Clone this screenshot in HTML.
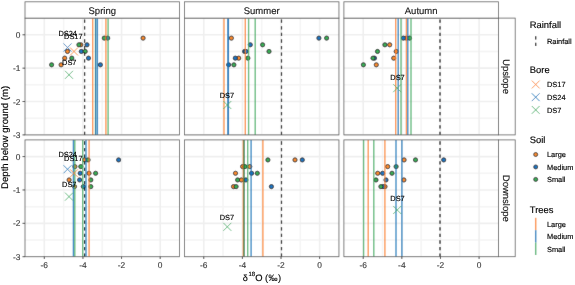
<!DOCTYPE html><html><head><meta charset="utf-8"><style>html,body{margin:0;padding:0;background:#fff;}svg{display:block;text-rendering:geometricPrecision;} svg text{font-family:"Liberation Sans",sans-serif;stroke:#000;stroke-width:0.15px;} svg text.g{fill:#3d3d3d;stroke:#3d3d3d;} svg text.s{fill:#1a1a1a;stroke:#1a1a1a;}</style></head><body>
<svg width="575" height="285" viewBox="0 0 575 285" font-family='"Liberation Sans", sans-serif'>
<defs><filter id="bl" x="0" y="0" width="575" height="285" filterUnits="userSpaceOnUse"><feConvolveMatrix order="3" kernelMatrix="0.0052 0.0619 0.0052 0.0619 0.7314 0.0619 0.0052 0.0619 0.0052" edgeMode="duplicate" preserveAlpha="true"/></filter><filter id="nop" x="0" y="0" width="575" height="285" filterUnits="userSpaceOnUse"><feOffset dx="0" dy="0"/></filter></defs>
<g filter="url(#bl)"><rect x="0" y="0" width="575" height="285" fill="#fff"/>
<rect x="25.0" y="18.1" width="154.5" height="116.8" fill="#fff"/>
<line x1="63.62" y1="18.1" x2="63.62" y2="134.9" stroke="#f4f4f4" stroke-width="1.5"/>
<line x1="102.25" y1="18.1" x2="102.25" y2="134.9" stroke="#f4f4f4" stroke-width="1.5"/>
<line x1="140.88" y1="18.1" x2="140.88" y2="134.9" stroke="#f4f4f4" stroke-width="1.5"/>
<line x1="25.0" y1="51.47" x2="179.5" y2="51.47" stroke="#f4f4f4" stroke-width="1.5"/>
<line x1="25.0" y1="84.84" x2="179.5" y2="84.84" stroke="#f4f4f4" stroke-width="1.5"/>
<line x1="25.0" y1="118.21" x2="179.5" y2="118.21" stroke="#f4f4f4" stroke-width="1.5"/>
<line x1="44.31" y1="18.1" x2="44.31" y2="134.9" stroke="#efefef" stroke-width="1.6"/>
<line x1="82.94" y1="18.1" x2="82.94" y2="134.9" stroke="#efefef" stroke-width="1.6"/>
<line x1="121.56" y1="18.1" x2="121.56" y2="134.9" stroke="#efefef" stroke-width="1.6"/>
<line x1="160.19" y1="18.1" x2="160.19" y2="134.9" stroke="#efefef" stroke-width="1.6"/>
<line x1="25.0" y1="34.79" x2="179.5" y2="34.79" stroke="#efefef" stroke-width="1.6"/>
<line x1="25.0" y1="68.16" x2="179.5" y2="68.16" stroke="#efefef" stroke-width="1.6"/>
<line x1="25.0" y1="101.53" x2="179.5" y2="101.53" stroke="#efefef" stroke-width="1.6"/>
<line x1="25.0" y1="134.90" x2="179.5" y2="134.90" stroke="#efefef" stroke-width="1.6"/>
<circle cx="61.10" cy="64.82" r="2.1" fill="#f48a2e" stroke="#1a1a1a" stroke-width="0.8"/>
<circle cx="64.70" cy="58.15" r="2.1" fill="#f48a2e" stroke="#1a1a1a" stroke-width="0.8"/>
<circle cx="67.50" cy="51.47" r="2.1" fill="#f48a2e" stroke="#1a1a1a" stroke-width="0.8"/>
<circle cx="80.80" cy="44.80" r="2.1" fill="#f48a2e" stroke="#1a1a1a" stroke-width="0.8"/>
<circle cx="143.10" cy="38.12" r="2.1" fill="#f48a2e" stroke="#1a1a1a" stroke-width="0.8"/>
<circle cx="81.30" cy="51.47" r="2.1" fill="#1a74be" stroke="#1a1a1a" stroke-width="0.8"/>
<circle cx="87.00" cy="44.80" r="2.1" fill="#1a74be" stroke="#1a1a1a" stroke-width="0.8"/>
<circle cx="88.50" cy="58.15" r="2.1" fill="#1a74be" stroke="#1a1a1a" stroke-width="0.8"/>
<circle cx="100.40" cy="64.82" r="2.1" fill="#1a74be" stroke="#1a1a1a" stroke-width="0.8"/>
<circle cx="107.70" cy="38.12" r="2.1" fill="#1a74be" stroke="#1a1a1a" stroke-width="0.8"/>
<circle cx="51.60" cy="64.82" r="2.1" fill="#38aa55" stroke="#1a1a1a" stroke-width="0.8"/>
<circle cx="71.80" cy="58.15" r="2.1" fill="#38aa55" stroke="#1a1a1a" stroke-width="0.8"/>
<circle cx="78.90" cy="44.80" r="2.1" fill="#38aa55" stroke="#1a1a1a" stroke-width="0.8"/>
<circle cx="85.20" cy="51.47" r="2.1" fill="#38aa55" stroke="#1a1a1a" stroke-width="0.8"/>
<circle cx="104.30" cy="38.12" r="2.1" fill="#38aa55" stroke="#1a1a1a" stroke-width="0.8"/>
<line x1="84.60" y1="134.9" x2="84.60" y2="18.1" stroke="#111" stroke-width="1.25" stroke-dasharray="3.3,3.3" stroke-dashoffset="0.15"/>
<line x1="92.70" y1="18.1" x2="92.70" y2="134.9" stroke="#fb802a" stroke-opacity="0.8" stroke-width="1.4"/>
<line x1="95.50" y1="18.1" x2="95.50" y2="134.9" stroke="#44ab63" stroke-opacity="0.8" stroke-width="1.4"/>
<line x1="95.70" y1="18.1" x2="95.70" y2="134.9" stroke="#0f70b6" stroke-opacity="0.8" stroke-width="1.4"/>
<line x1="97.40" y1="18.1" x2="97.40" y2="134.9" stroke="#0f70b6" stroke-opacity="0.8" stroke-width="1.4"/>
<line x1="105.90" y1="18.1" x2="105.90" y2="134.9" stroke="#fb802a" stroke-opacity="0.8" stroke-width="1.4"/>
<line x1="108.10" y1="18.1" x2="108.10" y2="134.9" stroke="#44ab63" stroke-opacity="0.8" stroke-width="1.4"/>
<path d="M63.50,43.47L71.50,51.47M63.50,51.47L71.50,43.47" stroke="#0f70b6" stroke-opacity="0.85" stroke-width="0.95" fill="none"/>
<path d="M70.00,47.47L78.00,55.47M70.00,55.47L78.00,47.47" stroke="#fb802a" stroke-opacity="0.85" stroke-width="0.95" fill="none"/>
<path d="M65.00,70.83L73.00,78.83M65.00,78.83L73.00,70.83" stroke="#44ab63" stroke-opacity="0.85" stroke-width="0.95" fill="none"/>
<rect x="25.0" y="18.1" width="154.5" height="116.8" fill="none" stroke="#5e5e5e" stroke-width="0.8"/>
<rect x="25.0" y="139.9" width="154.5" height="116.8" fill="#fff"/>
<line x1="63.62" y1="139.9" x2="63.62" y2="256.7" stroke="#f4f4f4" stroke-width="1.5"/>
<line x1="102.25" y1="139.9" x2="102.25" y2="256.7" stroke="#f4f4f4" stroke-width="1.5"/>
<line x1="140.88" y1="139.9" x2="140.88" y2="256.7" stroke="#f4f4f4" stroke-width="1.5"/>
<line x1="25.0" y1="173.27" x2="179.5" y2="173.27" stroke="#f4f4f4" stroke-width="1.5"/>
<line x1="25.0" y1="206.64" x2="179.5" y2="206.64" stroke="#f4f4f4" stroke-width="1.5"/>
<line x1="25.0" y1="240.01" x2="179.5" y2="240.01" stroke="#f4f4f4" stroke-width="1.5"/>
<line x1="44.31" y1="139.9" x2="44.31" y2="256.7" stroke="#efefef" stroke-width="1.6"/>
<line x1="82.94" y1="139.9" x2="82.94" y2="256.7" stroke="#efefef" stroke-width="1.6"/>
<line x1="121.56" y1="139.9" x2="121.56" y2="256.7" stroke="#efefef" stroke-width="1.6"/>
<line x1="160.19" y1="139.9" x2="160.19" y2="256.7" stroke="#efefef" stroke-width="1.6"/>
<line x1="25.0" y1="156.59" x2="179.5" y2="156.59" stroke="#efefef" stroke-width="1.6"/>
<line x1="25.0" y1="189.96" x2="179.5" y2="189.96" stroke="#efefef" stroke-width="1.6"/>
<line x1="25.0" y1="223.33" x2="179.5" y2="223.33" stroke="#efefef" stroke-width="1.6"/>
<line x1="25.0" y1="256.70" x2="179.5" y2="256.70" stroke="#efefef" stroke-width="1.6"/>
<circle cx="84.60" cy="159.92" r="2.1" fill="#f48a2e" stroke="#1a1a1a" stroke-width="0.8"/>
<circle cx="74.90" cy="166.60" r="2.1" fill="#f48a2e" stroke="#1a1a1a" stroke-width="0.8"/>
<circle cx="89.00" cy="173.27" r="2.1" fill="#f48a2e" stroke="#1a1a1a" stroke-width="0.8"/>
<circle cx="69.10" cy="179.95" r="2.1" fill="#f48a2e" stroke="#1a1a1a" stroke-width="0.8"/>
<circle cx="74.50" cy="186.62" r="2.1" fill="#f48a2e" stroke="#1a1a1a" stroke-width="0.8"/>
<circle cx="118.60" cy="159.92" r="2.1" fill="#1a74be" stroke="#1a1a1a" stroke-width="0.8"/>
<circle cx="80.20" cy="173.27" r="2.1" fill="#1a74be" stroke="#1a1a1a" stroke-width="0.8"/>
<circle cx="79.60" cy="179.95" r="2.1" fill="#1a74be" stroke="#1a1a1a" stroke-width="0.8"/>
<circle cx="83.30" cy="186.62" r="2.1" fill="#1a74be" stroke="#1a1a1a" stroke-width="0.8"/>
<circle cx="88.10" cy="159.92" r="2.1" fill="#38aa55" stroke="#1a1a1a" stroke-width="0.8"/>
<circle cx="80.80" cy="166.60" r="2.1" fill="#38aa55" stroke="#1a1a1a" stroke-width="0.8"/>
<circle cx="95.60" cy="173.27" r="2.1" fill="#38aa55" stroke="#1a1a1a" stroke-width="0.8"/>
<circle cx="90.80" cy="179.95" r="2.1" fill="#38aa55" stroke="#1a1a1a" stroke-width="0.8"/>
<circle cx="90.80" cy="186.62" r="2.1" fill="#38aa55" stroke="#1a1a1a" stroke-width="0.8"/>
<line x1="84.60" y1="256.7" x2="84.60" y2="139.9" stroke="#111" stroke-width="1.25" stroke-dasharray="3.3,3.3" stroke-dashoffset="0.15"/>
<line x1="73.40" y1="139.9" x2="73.40" y2="256.7" stroke="#0f70b6" stroke-opacity="0.8" stroke-width="1.4"/>
<line x1="74.80" y1="139.9" x2="74.80" y2="256.7" stroke="#44ab63" stroke-opacity="0.8" stroke-width="1.4"/>
<line x1="82.70" y1="139.9" x2="82.70" y2="256.7" stroke="#44ab63" stroke-opacity="0.8" stroke-width="1.4"/>
<line x1="86.00" y1="139.9" x2="86.00" y2="256.7" stroke="#0f70b6" stroke-opacity="0.8" stroke-width="1.4"/>
<line x1="89.10" y1="139.9" x2="89.10" y2="256.7" stroke="#fb802a" stroke-opacity="0.8" stroke-width="1.4"/>
<path d="M63.50,165.27L71.50,173.27M63.50,173.27L71.50,165.27" stroke="#0f70b6" stroke-opacity="0.85" stroke-width="0.95" fill="none"/>
<path d="M70.00,169.27L78.00,177.27M70.00,177.27L78.00,169.27" stroke="#fb802a" stroke-opacity="0.85" stroke-width="0.95" fill="none"/>
<path d="M65.00,192.63L73.00,200.63M65.00,200.63L73.00,192.63" stroke="#44ab63" stroke-opacity="0.85" stroke-width="0.95" fill="none"/>
<rect x="25.0" y="139.9" width="154.5" height="116.8" fill="none" stroke="#5e5e5e" stroke-width="0.8"/>
<rect x="184.45" y="18.1" width="154.5" height="116.8" fill="#fff"/>
<line x1="223.07" y1="18.1" x2="223.07" y2="134.9" stroke="#f4f4f4" stroke-width="1.5"/>
<line x1="261.70" y1="18.1" x2="261.70" y2="134.9" stroke="#f4f4f4" stroke-width="1.5"/>
<line x1="300.32" y1="18.1" x2="300.32" y2="134.9" stroke="#f4f4f4" stroke-width="1.5"/>
<line x1="184.45" y1="51.47" x2="338.95" y2="51.47" stroke="#f4f4f4" stroke-width="1.5"/>
<line x1="184.45" y1="84.84" x2="338.95" y2="84.84" stroke="#f4f4f4" stroke-width="1.5"/>
<line x1="184.45" y1="118.21" x2="338.95" y2="118.21" stroke="#f4f4f4" stroke-width="1.5"/>
<line x1="203.76" y1="18.1" x2="203.76" y2="134.9" stroke="#efefef" stroke-width="1.6"/>
<line x1="242.39" y1="18.1" x2="242.39" y2="134.9" stroke="#efefef" stroke-width="1.6"/>
<line x1="281.01" y1="18.1" x2="281.01" y2="134.9" stroke="#efefef" stroke-width="1.6"/>
<line x1="319.64" y1="18.1" x2="319.64" y2="134.9" stroke="#efefef" stroke-width="1.6"/>
<line x1="184.45" y1="34.79" x2="338.95" y2="34.79" stroke="#efefef" stroke-width="1.6"/>
<line x1="184.45" y1="68.16" x2="338.95" y2="68.16" stroke="#efefef" stroke-width="1.6"/>
<line x1="184.45" y1="101.53" x2="338.95" y2="101.53" stroke="#efefef" stroke-width="1.6"/>
<line x1="184.45" y1="134.90" x2="338.95" y2="134.90" stroke="#efefef" stroke-width="1.6"/>
<circle cx="231.40" cy="38.12" r="2.1" fill="#f48a2e" stroke="#1a1a1a" stroke-width="0.8"/>
<circle cx="238.70" cy="58.15" r="2.1" fill="#f48a2e" stroke="#1a1a1a" stroke-width="0.8"/>
<circle cx="250.30" cy="44.80" r="2.1" fill="#1a74be" stroke="#1a1a1a" stroke-width="0.8"/>
<circle cx="244.60" cy="51.47" r="2.1" fill="#1a74be" stroke="#1a1a1a" stroke-width="0.8"/>
<circle cx="246.00" cy="51.47" r="2.1" fill="#1a74be" stroke="#1a1a1a" stroke-width="0.8"/>
<circle cx="235.30" cy="58.15" r="2.1" fill="#1a74be" stroke="#1a1a1a" stroke-width="0.8"/>
<circle cx="228.60" cy="64.82" r="2.1" fill="#1a74be" stroke="#1a1a1a" stroke-width="0.8"/>
<circle cx="318.90" cy="38.12" r="2.1" fill="#1a74be" stroke="#1a1a1a" stroke-width="0.8"/>
<circle cx="247.90" cy="58.15" r="2.1" fill="#38aa55" stroke="#1a1a1a" stroke-width="0.8"/>
<circle cx="233.90" cy="64.82" r="2.1" fill="#38aa55" stroke="#1a1a1a" stroke-width="0.8"/>
<circle cx="262.60" cy="44.80" r="2.1" fill="#38aa55" stroke="#1a1a1a" stroke-width="0.8"/>
<circle cx="269.00" cy="51.47" r="2.1" fill="#38aa55" stroke="#1a1a1a" stroke-width="0.8"/>
<circle cx="326.60" cy="38.12" r="2.1" fill="#38aa55" stroke="#1a1a1a" stroke-width="0.8"/>
<line x1="281.50" y1="134.9" x2="281.50" y2="18.1" stroke="#111" stroke-width="1.25" stroke-dasharray="3.3,3.3" stroke-dashoffset="0.15"/>
<line x1="224.00" y1="18.1" x2="224.00" y2="134.9" stroke="#fb802a" stroke-opacity="0.8" stroke-width="1.4"/>
<line x1="227.90" y1="18.1" x2="227.90" y2="134.9" stroke="#0f70b6" stroke-opacity="0.8" stroke-width="1.4"/>
<line x1="228.40" y1="18.1" x2="228.40" y2="134.9" stroke="#0f70b6" stroke-opacity="0.8" stroke-width="1.4"/>
<line x1="245.30" y1="18.1" x2="245.30" y2="134.9" stroke="#fb802a" stroke-opacity="0.8" stroke-width="1.4"/>
<line x1="248.60" y1="18.1" x2="248.60" y2="134.9" stroke="#44ab63" stroke-opacity="0.8" stroke-width="1.4"/>
<line x1="255.20" y1="18.1" x2="255.20" y2="134.9" stroke="#44ab63" stroke-opacity="0.8" stroke-width="1.4"/>
<path d="M223.30,101.03L231.30,109.03M223.30,109.03L231.30,101.03" stroke="#44ab63" stroke-opacity="0.85" stroke-width="0.95" fill="none"/>
<rect x="184.45" y="18.1" width="154.5" height="116.8" fill="none" stroke="#5e5e5e" stroke-width="0.8"/>
<rect x="184.45" y="139.9" width="154.5" height="116.8" fill="#fff"/>
<line x1="223.07" y1="139.9" x2="223.07" y2="256.7" stroke="#f4f4f4" stroke-width="1.5"/>
<line x1="261.70" y1="139.9" x2="261.70" y2="256.7" stroke="#f4f4f4" stroke-width="1.5"/>
<line x1="300.32" y1="139.9" x2="300.32" y2="256.7" stroke="#f4f4f4" stroke-width="1.5"/>
<line x1="184.45" y1="173.27" x2="338.95" y2="173.27" stroke="#f4f4f4" stroke-width="1.5"/>
<line x1="184.45" y1="206.64" x2="338.95" y2="206.64" stroke="#f4f4f4" stroke-width="1.5"/>
<line x1="184.45" y1="240.01" x2="338.95" y2="240.01" stroke="#f4f4f4" stroke-width="1.5"/>
<line x1="203.76" y1="139.9" x2="203.76" y2="256.7" stroke="#efefef" stroke-width="1.6"/>
<line x1="242.39" y1="139.9" x2="242.39" y2="256.7" stroke="#efefef" stroke-width="1.6"/>
<line x1="281.01" y1="139.9" x2="281.01" y2="256.7" stroke="#efefef" stroke-width="1.6"/>
<line x1="319.64" y1="139.9" x2="319.64" y2="256.7" stroke="#efefef" stroke-width="1.6"/>
<line x1="184.45" y1="156.59" x2="338.95" y2="156.59" stroke="#efefef" stroke-width="1.6"/>
<line x1="184.45" y1="189.96" x2="338.95" y2="189.96" stroke="#efefef" stroke-width="1.6"/>
<line x1="184.45" y1="223.33" x2="338.95" y2="223.33" stroke="#efefef" stroke-width="1.6"/>
<line x1="184.45" y1="256.70" x2="338.95" y2="256.70" stroke="#efefef" stroke-width="1.6"/>
<circle cx="295.00" cy="159.92" r="2.1" fill="#f48a2e" stroke="#1a1a1a" stroke-width="0.8"/>
<circle cx="242.60" cy="166.60" r="2.1" fill="#f48a2e" stroke="#1a1a1a" stroke-width="0.8"/>
<circle cx="249.80" cy="166.60" r="2.1" fill="#f48a2e" stroke="#1a1a1a" stroke-width="0.8"/>
<circle cx="235.50" cy="173.27" r="2.1" fill="#f48a2e" stroke="#1a1a1a" stroke-width="0.8"/>
<circle cx="241.30" cy="179.95" r="2.1" fill="#f48a2e" stroke="#1a1a1a" stroke-width="0.8"/>
<circle cx="233.50" cy="186.62" r="2.1" fill="#f48a2e" stroke="#1a1a1a" stroke-width="0.8"/>
<circle cx="302.30" cy="159.92" r="2.1" fill="#1a74be" stroke="#1a1a1a" stroke-width="0.8"/>
<circle cx="251.60" cy="173.27" r="2.1" fill="#1a74be" stroke="#1a1a1a" stroke-width="0.8"/>
<circle cx="245.90" cy="179.95" r="2.1" fill="#1a74be" stroke="#1a1a1a" stroke-width="0.8"/>
<circle cx="271.40" cy="186.62" r="2.1" fill="#1a74be" stroke="#1a1a1a" stroke-width="0.8"/>
<circle cx="267.90" cy="159.92" r="2.1" fill="#38aa55" stroke="#1a1a1a" stroke-width="0.8"/>
<circle cx="245.00" cy="166.60" r="2.1" fill="#38aa55" stroke="#1a1a1a" stroke-width="0.8"/>
<circle cx="257.30" cy="173.27" r="2.1" fill="#38aa55" stroke="#1a1a1a" stroke-width="0.8"/>
<circle cx="237.60" cy="179.95" r="2.1" fill="#38aa55" stroke="#1a1a1a" stroke-width="0.8"/>
<circle cx="236.10" cy="186.62" r="2.1" fill="#38aa55" stroke="#1a1a1a" stroke-width="0.8"/>
<line x1="281.50" y1="256.7" x2="281.50" y2="139.9" stroke="#111" stroke-width="1.25" stroke-dasharray="3.3,3.3" stroke-dashoffset="0.15"/>
<line x1="243.30" y1="139.9" x2="243.30" y2="256.7" stroke="#fb802a" stroke-opacity="0.8" stroke-width="1.4"/>
<line x1="244.10" y1="139.9" x2="244.10" y2="256.7" stroke="#0e6e3c" stroke-opacity="0.8" stroke-width="1.4"/>
<line x1="247.70" y1="139.9" x2="247.70" y2="256.7" stroke="#44ab63" stroke-opacity="0.8" stroke-width="1.4"/>
<line x1="251.10" y1="139.9" x2="251.10" y2="256.7" stroke="#0f70b6" stroke-opacity="0.8" stroke-width="1.4"/>
<line x1="262.90" y1="139.9" x2="262.90" y2="256.7" stroke="#fb802a" stroke-opacity="0.8" stroke-width="1.4"/>
<path d="M223.30,222.83L231.30,230.83M223.30,230.83L231.30,222.83" stroke="#44ab63" stroke-opacity="0.85" stroke-width="0.95" fill="none"/>
<rect x="184.45" y="139.9" width="154.5" height="116.8" fill="none" stroke="#5e5e5e" stroke-width="0.8"/>
<rect x="343.9" y="18.1" width="154.5" height="116.8" fill="#fff"/>
<line x1="382.52" y1="18.1" x2="382.52" y2="134.9" stroke="#f4f4f4" stroke-width="1.5"/>
<line x1="421.15" y1="18.1" x2="421.15" y2="134.9" stroke="#f4f4f4" stroke-width="1.5"/>
<line x1="459.77" y1="18.1" x2="459.77" y2="134.9" stroke="#f4f4f4" stroke-width="1.5"/>
<line x1="343.9" y1="51.47" x2="498.4" y2="51.47" stroke="#f4f4f4" stroke-width="1.5"/>
<line x1="343.9" y1="84.84" x2="498.4" y2="84.84" stroke="#f4f4f4" stroke-width="1.5"/>
<line x1="343.9" y1="118.21" x2="498.4" y2="118.21" stroke="#f4f4f4" stroke-width="1.5"/>
<line x1="363.21" y1="18.1" x2="363.21" y2="134.9" stroke="#efefef" stroke-width="1.6"/>
<line x1="401.84" y1="18.1" x2="401.84" y2="134.9" stroke="#efefef" stroke-width="1.6"/>
<line x1="440.46" y1="18.1" x2="440.46" y2="134.9" stroke="#efefef" stroke-width="1.6"/>
<line x1="479.09" y1="18.1" x2="479.09" y2="134.9" stroke="#efefef" stroke-width="1.6"/>
<line x1="343.9" y1="34.79" x2="498.4" y2="34.79" stroke="#efefef" stroke-width="1.6"/>
<line x1="343.9" y1="68.16" x2="498.4" y2="68.16" stroke="#efefef" stroke-width="1.6"/>
<line x1="343.9" y1="101.53" x2="498.4" y2="101.53" stroke="#efefef" stroke-width="1.6"/>
<line x1="343.9" y1="134.90" x2="498.4" y2="134.90" stroke="#efefef" stroke-width="1.6"/>
<circle cx="376.30" cy="64.82" r="2.1" fill="#f48a2e" stroke="#1a1a1a" stroke-width="0.8"/>
<circle cx="389.70" cy="44.80" r="2.1" fill="#f48a2e" stroke="#1a1a1a" stroke-width="0.8"/>
<circle cx="396.20" cy="51.47" r="2.1" fill="#f48a2e" stroke="#1a1a1a" stroke-width="0.8"/>
<circle cx="393.70" cy="58.15" r="2.1" fill="#f48a2e" stroke="#1a1a1a" stroke-width="0.8"/>
<circle cx="406.40" cy="38.12" r="2.1" fill="#f48a2e" stroke="#1a1a1a" stroke-width="0.8"/>
<circle cx="374.50" cy="58.15" r="2.1" fill="#1a74be" stroke="#1a1a1a" stroke-width="0.8"/>
<circle cx="403.40" cy="38.12" r="2.1" fill="#1a74be" stroke="#1a1a1a" stroke-width="0.8"/>
<circle cx="363.40" cy="64.82" r="2.1" fill="#38aa55" stroke="#1a1a1a" stroke-width="0.8"/>
<circle cx="373.00" cy="58.15" r="2.1" fill="#38aa55" stroke="#1a1a1a" stroke-width="0.8"/>
<circle cx="377.50" cy="51.47" r="2.1" fill="#38aa55" stroke="#1a1a1a" stroke-width="0.8"/>
<circle cx="384.90" cy="44.80" r="2.1" fill="#38aa55" stroke="#1a1a1a" stroke-width="0.8"/>
<circle cx="409.60" cy="38.12" r="2.1" fill="#38aa55" stroke="#1a1a1a" stroke-width="0.8"/>
<line x1="440.00" y1="134.9" x2="440.00" y2="18.1" stroke="#111" stroke-width="1.25" stroke-dasharray="3.3,3.3" stroke-dashoffset="0.15"/>
<line x1="395.70" y1="18.1" x2="395.70" y2="134.9" stroke="#fb802a" stroke-opacity="0.8" stroke-width="1.4"/>
<line x1="398.20" y1="18.1" x2="398.20" y2="134.9" stroke="#0f70b6" stroke-opacity="0.8" stroke-width="1.4"/>
<line x1="401.00" y1="18.1" x2="401.00" y2="134.9" stroke="#44ab63" stroke-opacity="0.8" stroke-width="1.4"/>
<line x1="406.40" y1="18.1" x2="406.40" y2="134.9" stroke="#fb802a" stroke-opacity="0.8" stroke-width="1.4"/>
<line x1="407.80" y1="18.1" x2="407.80" y2="134.9" stroke="#0f70b6" stroke-opacity="0.8" stroke-width="1.4"/>
<line x1="411.00" y1="18.1" x2="411.00" y2="134.9" stroke="#44ab63" stroke-opacity="0.8" stroke-width="1.4"/>
<path d="M393.20,84.18L401.20,92.18M393.20,92.18L401.20,84.18" stroke="#44ab63" stroke-opacity="0.85" stroke-width="0.95" fill="none"/>
<rect x="343.9" y="18.1" width="154.5" height="116.8" fill="none" stroke="#5e5e5e" stroke-width="0.8"/>
<rect x="343.9" y="139.9" width="154.5" height="116.8" fill="#fff"/>
<line x1="382.52" y1="139.9" x2="382.52" y2="256.7" stroke="#f4f4f4" stroke-width="1.5"/>
<line x1="421.15" y1="139.9" x2="421.15" y2="256.7" stroke="#f4f4f4" stroke-width="1.5"/>
<line x1="459.77" y1="139.9" x2="459.77" y2="256.7" stroke="#f4f4f4" stroke-width="1.5"/>
<line x1="343.9" y1="173.27" x2="498.4" y2="173.27" stroke="#f4f4f4" stroke-width="1.5"/>
<line x1="343.9" y1="206.64" x2="498.4" y2="206.64" stroke="#f4f4f4" stroke-width="1.5"/>
<line x1="343.9" y1="240.01" x2="498.4" y2="240.01" stroke="#f4f4f4" stroke-width="1.5"/>
<line x1="363.21" y1="139.9" x2="363.21" y2="256.7" stroke="#efefef" stroke-width="1.6"/>
<line x1="401.84" y1="139.9" x2="401.84" y2="256.7" stroke="#efefef" stroke-width="1.6"/>
<line x1="440.46" y1="139.9" x2="440.46" y2="256.7" stroke="#efefef" stroke-width="1.6"/>
<line x1="479.09" y1="139.9" x2="479.09" y2="256.7" stroke="#efefef" stroke-width="1.6"/>
<line x1="343.9" y1="156.59" x2="498.4" y2="156.59" stroke="#efefef" stroke-width="1.6"/>
<line x1="343.9" y1="189.96" x2="498.4" y2="189.96" stroke="#efefef" stroke-width="1.6"/>
<line x1="343.9" y1="223.33" x2="498.4" y2="223.33" stroke="#efefef" stroke-width="1.6"/>
<line x1="343.9" y1="256.70" x2="498.4" y2="256.70" stroke="#efefef" stroke-width="1.6"/>
<circle cx="404.10" cy="159.92" r="2.1" fill="#f48a2e" stroke="#1a1a1a" stroke-width="0.8"/>
<circle cx="387.70" cy="166.60" r="2.1" fill="#f48a2e" stroke="#1a1a1a" stroke-width="0.8"/>
<circle cx="377.70" cy="173.27" r="2.1" fill="#f48a2e" stroke="#1a1a1a" stroke-width="0.8"/>
<circle cx="403.90" cy="179.95" r="2.1" fill="#f48a2e" stroke="#1a1a1a" stroke-width="0.8"/>
<circle cx="385.00" cy="186.62" r="2.1" fill="#f48a2e" stroke="#1a1a1a" stroke-width="0.8"/>
<circle cx="443.70" cy="159.92" r="2.1" fill="#1a74be" stroke="#1a1a1a" stroke-width="0.8"/>
<circle cx="382.60" cy="173.27" r="2.1" fill="#1a74be" stroke="#1a1a1a" stroke-width="0.8"/>
<circle cx="386.00" cy="179.95" r="2.1" fill="#1a74be" stroke="#1a1a1a" stroke-width="0.8"/>
<circle cx="383.00" cy="186.62" r="2.1" fill="#1a74be" stroke="#1a1a1a" stroke-width="0.8"/>
<circle cx="415.50" cy="159.92" r="2.1" fill="#38aa55" stroke="#1a1a1a" stroke-width="0.8"/>
<circle cx="396.10" cy="166.60" r="2.1" fill="#38aa55" stroke="#1a1a1a" stroke-width="0.8"/>
<circle cx="392.00" cy="173.27" r="2.1" fill="#38aa55" stroke="#1a1a1a" stroke-width="0.8"/>
<circle cx="376.00" cy="179.95" r="2.1" fill="#38aa55" stroke="#1a1a1a" stroke-width="0.8"/>
<circle cx="380.90" cy="186.62" r="2.1" fill="#38aa55" stroke="#1a1a1a" stroke-width="0.8"/>
<line x1="440.00" y1="256.7" x2="440.00" y2="139.9" stroke="#111" stroke-width="1.25" stroke-dasharray="3.3,3.3" stroke-dashoffset="0.15"/>
<line x1="363.60" y1="139.9" x2="363.60" y2="256.7" stroke="#44ab63" stroke-opacity="0.8" stroke-width="1.4"/>
<line x1="368.20" y1="139.9" x2="368.20" y2="256.7" stroke="#fb802a" stroke-opacity="0.8" stroke-width="1.4"/>
<line x1="373.80" y1="139.9" x2="373.80" y2="256.7" stroke="#44ab63" stroke-opacity="0.8" stroke-width="1.4"/>
<line x1="384.90" y1="139.9" x2="384.90" y2="256.7" stroke="#fb802a" stroke-opacity="0.8" stroke-width="1.4"/>
<line x1="396.00" y1="139.9" x2="396.00" y2="256.7" stroke="#0f70b6" stroke-opacity="0.8" stroke-width="1.4"/>
<line x1="401.90" y1="139.9" x2="401.90" y2="256.7" stroke="#0f70b6" stroke-opacity="0.8" stroke-width="1.4"/>
<path d="M393.20,205.98L401.20,213.98M393.20,213.98L401.20,205.98" stroke="#44ab63" stroke-opacity="0.85" stroke-width="0.95" fill="none"/>
<rect x="343.9" y="139.9" width="154.5" height="116.8" fill="none" stroke="#5e5e5e" stroke-width="0.8"/>
<rect x="25.0" y="1.8" width="154.5" height="16.30" fill="#fff" stroke="#5e5e5e" stroke-width="0.8"/>
<rect x="184.45" y="1.8" width="154.5" height="16.30" fill="#fff" stroke="#5e5e5e" stroke-width="0.8"/>
<rect x="343.9" y="1.8" width="154.5" height="16.30" fill="#fff" stroke="#5e5e5e" stroke-width="0.8"/>
<rect x="498.40" y="18.1" width="16.8" height="116.8" fill="#fff" stroke="#5e5e5e" stroke-width="0.8"/>
<rect x="498.40" y="139.9" width="16.8" height="116.8" fill="#fff" stroke="#5e5e5e" stroke-width="0.8"/>
<line x1="22.5" y1="34.79" x2="25.0" y2="34.79" stroke="#333" stroke-width="0.9"/>
<line x1="22.5" y1="68.16" x2="25.0" y2="68.16" stroke="#333" stroke-width="0.9"/>
<line x1="22.5" y1="101.53" x2="25.0" y2="101.53" stroke="#333" stroke-width="0.9"/>
<line x1="22.5" y1="134.90" x2="25.0" y2="134.90" stroke="#333" stroke-width="0.9"/>
<line x1="22.5" y1="156.59" x2="25.0" y2="156.59" stroke="#333" stroke-width="0.9"/>
<line x1="22.5" y1="189.96" x2="25.0" y2="189.96" stroke="#333" stroke-width="0.9"/>
<line x1="22.5" y1="223.33" x2="25.0" y2="223.33" stroke="#333" stroke-width="0.9"/>
<line x1="22.5" y1="256.70" x2="25.0" y2="256.70" stroke="#333" stroke-width="0.9"/>
<line x1="44.31" y1="256.7" x2="44.31" y2="259.00" stroke="#333" stroke-width="0.9"/>
<line x1="82.94" y1="256.7" x2="82.94" y2="259.00" stroke="#333" stroke-width="0.9"/>
<line x1="121.56" y1="256.7" x2="121.56" y2="259.00" stroke="#333" stroke-width="0.9"/>
<line x1="160.19" y1="256.7" x2="160.19" y2="259.00" stroke="#333" stroke-width="0.9"/>
<line x1="203.76" y1="256.7" x2="203.76" y2="259.00" stroke="#333" stroke-width="0.9"/>
<line x1="242.39" y1="256.7" x2="242.39" y2="259.00" stroke="#333" stroke-width="0.9"/>
<line x1="281.01" y1="256.7" x2="281.01" y2="259.00" stroke="#333" stroke-width="0.9"/>
<line x1="319.64" y1="256.7" x2="319.64" y2="259.00" stroke="#333" stroke-width="0.9"/>
<line x1="363.21" y1="256.7" x2="363.21" y2="259.00" stroke="#333" stroke-width="0.9"/>
<line x1="401.84" y1="256.7" x2="401.84" y2="259.00" stroke="#333" stroke-width="0.9"/>
<line x1="440.46" y1="256.7" x2="440.46" y2="259.00" stroke="#333" stroke-width="0.9"/>
<line x1="479.09" y1="256.7" x2="479.09" y2="259.00" stroke="#333" stroke-width="0.9"/>
<line x1="535.7" y1="36.2" x2="535.7" y2="46.1" stroke="#111" stroke-width="1.25" stroke-dasharray="3.3,3.3"/>
<path d="M531.80,80.60L539.60,88.40M531.80,88.40L539.60,80.60" stroke="#fb802a" stroke-opacity="0.85" stroke-width="1.0" fill="none"/>
<path d="M531.80,93.30L539.60,101.10M531.80,101.10L539.60,93.30" stroke="#0f70b6" stroke-opacity="0.85" stroke-width="1.0" fill="none"/>
<path d="M531.80,106.00L539.60,113.80M531.80,113.80L539.60,106.00" stroke="#44ab63" stroke-opacity="0.85" stroke-width="1.0" fill="none"/>
<circle cx="535.70" cy="154.50" r="2.0" fill="#f48a2e" stroke="#1a1a1a" stroke-width="0.75"/>
<circle cx="535.70" cy="166.95" r="2.0" fill="#1a74be" stroke="#1a1a1a" stroke-width="0.75"/>
<circle cx="535.70" cy="179.40" r="2.0" fill="#38aa55" stroke="#1a1a1a" stroke-width="0.75"/>
<line x1="535.7" y1="217.80" x2="535.7" y2="230.20" stroke="#fb802a" stroke-opacity="0.8" stroke-width="1.5"/>
<line x1="535.7" y1="230.20" x2="535.7" y2="242.60" stroke="#0f70b6" stroke-opacity="0.8" stroke-width="1.5"/>
<line x1="535.7" y1="242.60" x2="535.7" y2="255.00" stroke="#44ab63" stroke-opacity="0.8" stroke-width="1.5"/>
</g><g filter="url(#nop)"><text x="67.70" y="35.50" font-size="7.4" text-anchor="middle" fill="#000">DS24</text>
<text x="73.30" y="39.20" font-size="7.4" text-anchor="middle" fill="#000">DS17</text>
<text x="69.30" y="64.70" font-size="7.4" text-anchor="middle" fill="#000">DS7</text>
<text x="67.70" y="157.30" font-size="7.4" text-anchor="middle" fill="#000">DS24</text>
<text x="73.30" y="161.00" font-size="7.4" text-anchor="middle" fill="#000">DS17</text>
<text x="69.30" y="186.50" font-size="7.4" text-anchor="middle" fill="#000">DS7</text>
<text x="226.90" y="98.20" font-size="7.4" text-anchor="middle" fill="#000">DS7</text>
<text x="226.90" y="220.00" font-size="7.4" text-anchor="middle" fill="#000">DS7</text>
<text x="397.50" y="79.50" font-size="7.4" text-anchor="middle" fill="#000">DS7</text>
<text x="397.50" y="201.30" font-size="7.4" text-anchor="middle" fill="#000">DS7</text>
<text x="102.25" y="13.7" font-size="9.5" text-anchor="middle" class="s">Spring</text>
<text x="261.70" y="13.7" font-size="9.5" text-anchor="middle" class="s">Summer</text>
<text x="421.15" y="13.7" font-size="9.5" text-anchor="middle" class="s">Autumn</text>
<text transform="translate(502.70,76.50) rotate(90)" x="0" y="0" font-size="9.5" text-anchor="middle" class="s">Upslope</text>
<text transform="translate(502.70,198.30) rotate(90)" x="0" y="0" font-size="9.5" text-anchor="middle" class="s">Downslope</text>
<text x="20.4" y="37.79" font-size="8.4" text-anchor="end" class="g">0</text>
<text x="20.4" y="71.16" font-size="8.4" text-anchor="end" class="g">-1</text>
<text x="20.4" y="104.53" font-size="8.4" text-anchor="end" class="g">-2</text>
<text x="20.4" y="137.90" font-size="8.4" text-anchor="end" class="g">-3</text>
<text x="20.4" y="159.59" font-size="8.4" text-anchor="end" class="g">0</text>
<text x="20.4" y="192.96" font-size="8.4" text-anchor="end" class="g">-1</text>
<text x="20.4" y="226.33" font-size="8.4" text-anchor="end" class="g">-2</text>
<text x="20.4" y="259.70" font-size="8.4" text-anchor="end" class="g">-3</text>
<text x="44.31" y="267.70" font-size="8.4" text-anchor="middle" class="g">-6</text>
<text x="82.94" y="267.70" font-size="8.4" text-anchor="middle" class="g">-4</text>
<text x="121.56" y="267.70" font-size="8.4" text-anchor="middle" class="g">-2</text>
<text x="160.19" y="267.70" font-size="8.4" text-anchor="middle" class="g">0</text>
<text x="203.76" y="267.70" font-size="8.4" text-anchor="middle" class="g">-6</text>
<text x="242.39" y="267.70" font-size="8.4" text-anchor="middle" class="g">-4</text>
<text x="281.01" y="267.70" font-size="8.4" text-anchor="middle" class="g">-2</text>
<text x="319.64" y="267.70" font-size="8.4" text-anchor="middle" class="g">0</text>
<text x="363.21" y="267.70" font-size="8.4" text-anchor="middle" class="g">-6</text>
<text x="401.84" y="267.70" font-size="8.4" text-anchor="middle" class="g">-4</text>
<text x="440.46" y="267.70" font-size="8.4" text-anchor="middle" class="g">-2</text>
<text x="479.09" y="267.70" font-size="8.4" text-anchor="middle" class="g">0</text>
<text x="242.8" y="281.3" font-size="9.0" fill="#000">&#948;</text>
<text x="248.5" y="276.3" font-size="6.0" fill="#000">18</text>
<text x="255.2" y="281.3" font-size="9.4" fill="#000">O</text>
<text x="264.9" y="281.3" font-size="9.4" fill="#000">(</text>
<text x="268.4" y="281.3" font-size="9.4" fill="#000" textLength="9.0" lengthAdjust="spacingAndGlyphs">&#8240;</text>
<text x="278.0" y="281.3" font-size="9.4" fill="#000">)</text>
<text transform="translate(8.0,137.40) rotate(-90)" x="0" y="0" font-size="9.65" text-anchor="middle" fill="#000">Depth below ground (m)</text>
<text x="529.8" y="28.0" font-size="9.4" fill="#000">Rainfall</text>
<text x="547.0" y="43.5" font-size="7.4" fill="#000">Rainfall</text>
<text x="529.8" y="72.9" font-size="9.4" fill="#000">Bore</text>
<text x="547.0" y="87.20" font-size="7.4" fill="#000">DS17</text>
<text x="547.0" y="99.90" font-size="7.4" fill="#000">DS24</text>
<text x="547.0" y="112.60" font-size="7.4" fill="#000">DS7</text>
<text x="529.8" y="142.9" font-size="9.4" fill="#000">Soil</text>
<text x="547.0" y="157.20" font-size="7.4" fill="#000">Large</text>
<text x="547.0" y="169.65" font-size="7.4" fill="#000">Medium</text>
<text x="547.0" y="182.10" font-size="7.4" fill="#000">Small</text>
<text x="529.8" y="212.5" font-size="9.4" fill="#000">Trees</text>
<text x="547.0" y="226.70" font-size="7.4" fill="#000">Large</text>
<text x="547.0" y="239.10" font-size="7.4" fill="#000">Medium</text>
<text x="547.0" y="251.50" font-size="7.4" fill="#000">Small</text></g></svg></body></html>
